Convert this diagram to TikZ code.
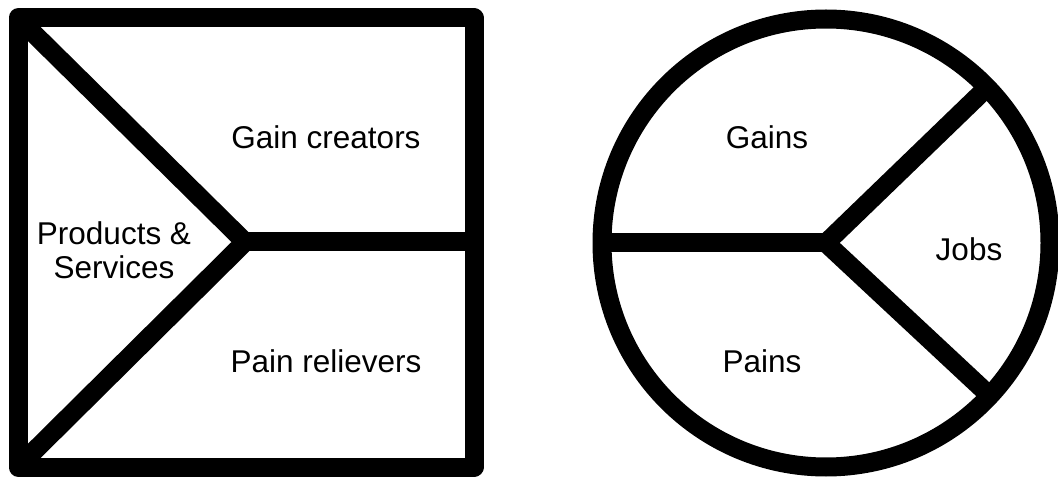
\documentclass[tikz,border=0pt]{standalone}
\usepackage{fontspec}
\setmainfont{Liberation Sans}
\usepackage{tikz}
\usetikzlibrary{calc,positioning}
\definecolor{cInk}{HTML}{000000}
\tikzset{
  frame/.style  ={cInk,line width=19pt,line join=round},
  split/.style  ={cInk,line width=19pt,line join=miter},
  lbl/.style    ={font=\fontsize{31.5}{34}\selectfont,align=center,inner sep=0pt},
}
\begin{document}
\begin{tikzpicture}[x=1pt,y=-1pt]
  \useasboundingbox (0,0) rectangle (1058,478);
  % value map
  \coordinate (tl) at (18,18);
  \coordinate (br) at (474,467);
  \coordinate (bl) at (18,467);
  \coordinate (apex) at (245,242);
  \coordinate (mr) at (474,242);
  \draw[frame] (tl) rectangle (br);
  \draw[split] (tl) -- (apex) -- (bl);
  \draw[split] (apex) -- (mr);
  \node[lbl] (gaincr) at (326,137) {Gain creators};
  \node[lbl] (prodserv) at (114,250) {Products \&\\Services};
  \node[lbl] (painrel) at (326,361) {Pain relievers};
  % customer profile
  \coordinate (ctr) at (826,243);
  \draw[frame] (ctr) circle (224);
  \coordinate (cl) at ($(ctr)+(-224,0)$);
  \coordinate (cu) at ($(ctr)+(-44:224)$);
  \coordinate (cd) at ($(ctr)+(43:224)$);
  \draw[split] (cl) -- (ctr);
  \draw[split] (cu) -- (ctr) -- (cd);
  \node[lbl] (gains) at (767,137) {Gains};
  \node[lbl] (jobs) at (969,249) {Jobs};
  \node[lbl] (pains) at (762,361) {Pains};
\end{tikzpicture}
\end{document}
